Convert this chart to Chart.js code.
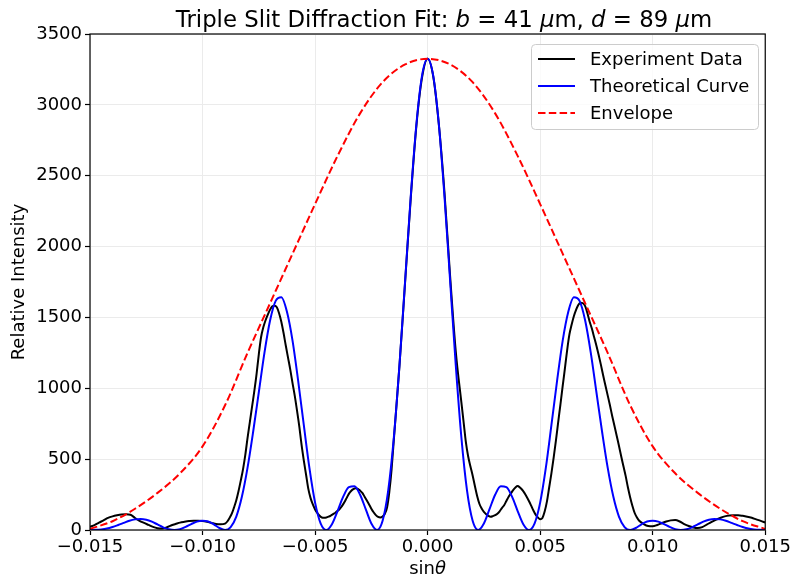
<!DOCTYPE html>
<html>
<head>
<meta charset="utf-8">
<title>Triple Slit Diffraction Fit</title>
<script src="https://cdn.jsdelivr.net/npm/chart.js@4.4.1/dist/chart.umd.min.js"></script>
<style>
  html, body { margin: 0; padding: 0; background: #fff; }
  #wrap { width: 793px; height: 578px; }
</style>
</head>
<body>
<div id="wrap"><canvas id="chart" width="793" height="578"></canvas></div>
<script>
// Experiment data
const expX = [
  -0.0150, -0.0148, -0.0146, -0.0144, -0.0142, -0.0140, -0.0138, -0.0136, -0.0134, -0.0132,
  -0.0130, -0.0128, -0.0126, -0.0124, -0.0122, -0.0120, -0.0118, -0.0116, -0.0114, -0.0112,
  -0.0110, -0.0108, -0.0106, -0.0104, -0.0102, -0.0100, -0.0098, -0.0096, -0.0094, -0.0092,
  -0.0090, -0.0089, -0.0088, -0.0087, -0.0086, -0.0085, -0.0084, -0.0083, -0.0082, -0.0081,
  -0.0080, -0.0079, -0.0078, -0.0077, -0.0076, -0.0075, -0.0074, -0.0073, -0.0072, -0.0071,
  -0.0070, -0.0069, -0.0068, -0.0067, -0.0066, -0.0065, -0.0064, -0.0063, -0.0062, -0.0061,
  -0.0060, -0.0059, -0.0058, -0.0057, -0.0056, -0.0055, -0.0054, -0.0053, -0.0052, -0.0051,
  -0.0050, -0.0049, -0.0048, -0.0047, -0.0046, -0.0045, -0.0044, -0.0043, -0.0042, -0.0041,
  -0.0040, -0.0039, -0.0038, -0.0037, -0.0036, -0.0035, -0.0034, -0.0033, -0.0032, -0.0031,
  -0.0030, -0.0029, -0.0028, -0.0027, -0.0026, -0.0025, -0.0024, -0.0023, -0.0022, -0.0021,
  -0.0020, -0.0019, -0.0018, -0.0017, -0.0016, -0.0015, -0.00125, -0.0010, -0.00075, -0.0005,
  -0.00025, 0, 0.00025, 0.0005, 0.00075, 0.0010, 0.00125, 0.0015, 0.0016, 0.0017,
  0.0018, 0.0019, 0.0020, 0.0021, 0.0022, 0.0023, 0.0024, 0.0025, 0.0026, 0.0027,
  0.0028, 0.0029, 0.0030, 0.0031, 0.0032, 0.0033, 0.0034, 0.0035, 0.0036, 0.0037,
  0.0038, 0.0039, 0.0040, 0.0041, 0.0042, 0.0043, 0.0044, 0.0045, 0.0046, 0.0047,
  0.0048, 0.0049, 0.0050, 0.0051, 0.0052, 0.0053, 0.0054, 0.0055, 0.0056, 0.0057,
  0.0058, 0.0059, 0.0060, 0.0061, 0.0062, 0.0063, 0.0064, 0.0065, 0.0066, 0.0067,
  0.0068, 0.0069, 0.0070, 0.0071, 0.0072, 0.0073, 0.0074, 0.0075, 0.0076, 0.0077,
  0.0078, 0.0079, 0.0080, 0.0081, 0.0082, 0.0083, 0.0084, 0.0085, 0.0086, 0.0087,
  0.0088, 0.0089, 0.0090, 0.0091, 0.0092, 0.0093, 0.0094, 0.0096, 0.0098, 0.0100,
  0.0102, 0.0104, 0.0106, 0.0108, 0.0110, 0.0112, 0.0114, 0.0116, 0.0118, 0.0120,
  0.0122, 0.0124, 0.0126, 0.0128, 0.0130, 0.0132, 0.0134, 0.0136, 0.0138, 0.0140,
  0.0142, 0.0144, 0.0146, 0.0148, 0.0150
];
const expY = [
  22, 35, 52, 68, 85, 96, 104, 110, 112, 108,
  85, 65, 50, 36, 22, 13, 10, 18, 32, 42,
  52, 58, 63, 66, 66, 64, 58, 50, 42, 40,
  45, 60, 85, 115, 160, 210, 275, 350, 430, 530,
  650, 760, 870, 980, 1100, 1240, 1360, 1430, 1480, 1520,
  1555, 1578, 1582, 1572, 1530, 1470, 1390, 1300, 1215, 1130,
  1035, 945, 840, 730, 600, 490, 390, 290, 225, 180,
  145, 120, 100, 88, 86, 88, 94, 102, 112, 122,
  135, 150, 170, 195, 225, 255, 275, 288, 294, 290,
  278, 262, 235, 208, 180, 150, 125, 105, 92, 88,
  95, 115, 160, 270, 430, 640, 1160, 1750, 2340, 2850,
  3190, 3325, 3200, 2860, 2380, 1790, 1260, 900, 760, 620,
  520, 450, 385, 310, 240, 185, 152, 128, 112, 100,
  94, 98, 105, 115, 132, 155, 175, 205, 235, 258,
  282, 300, 310, 300, 284, 262, 235, 205, 172, 138,
  108, 88, 76, 85, 130, 200, 300, 400, 510, 630,
  760, 885, 1015, 1140, 1270, 1380, 1450, 1510, 1555, 1590,
  1604, 1600, 1580, 1530, 1470, 1420, 1360, 1300, 1235, 1165,
  1090, 1020, 950, 880, 805, 735, 665, 595, 520, 450,
  380, 300, 230, 170, 120, 88, 65, 42, 28, 26,
  35, 48, 60, 68, 70, 60, 42, 28, 18, 14,
  20, 38, 56, 72, 85, 96, 102, 104, 104, 100,
  94, 86, 75, 64, 52
];

// Theoretical curve
const theoryX = [
  -0.015, -0.01475, -0.0145, -0.01425, -0.014, -0.01375, -0.0135, -0.01325, -0.013, -0.01275,
  -0.0125, -0.01225, -0.012, -0.01175, -0.0115, -0.01125, -0.011, -0.01075, -0.0105, -0.01025,
  -0.01, -0.00975, -0.0095, -0.00925, -0.009, -0.00875, -0.0085, -0.00825, -0.008, -0.00775,
  -0.0075, -0.00725, -0.007, -0.00675, -0.0065, -0.00625, -0.006, -0.00575, -0.0055, -0.00525,
  -0.005, -0.00475, -0.0045, -0.00425, -0.004, -0.00375, -0.0035, -0.00325, -0.003, -0.00275,
  -0.0025, -0.00225, -0.002, -0.00175, -0.0015, -0.00125, -0.001, -0.00075, -0.0005, -0.00025,
  0,
  0.00025, 0.0005, 0.00075, 0.001, 0.00125, 0.0015, 0.00175, 0.002, 0.00225, 0.0025,
  0.00275, 0.003, 0.00325, 0.0035, 0.00375, 0.004, 0.00425, 0.0045, 0.00475, 0.005,
  0.00525, 0.0055, 0.00575, 0.006, 0.00625, 0.0065, 0.00675, 0.007, 0.00725, 0.0075,
  0.00775, 0.008, 0.00825, 0.0085, 0.00875, 0.009, 0.00925, 0.0095, 0.00975, 0.01,
  0.01025, 0.0105, 0.01075, 0.011, 0.01125, 0.0115, 0.01175, 0.012, 0.01225, 0.0125,
  0.01275, 0.013, 0.01325, 0.0135, 0.01375, 0.014, 0.01425, 0.0145, 0.01475, 0.015
];
const theoryY = [
  0, 1, 4, 10, 21, 35, 50, 65, 75, 78,
  73, 59, 39, 19, 5, 0, 6, 22, 42, 59,
  65, 60, 40, 14, 0, 21, 95, 236, 440, 695,
  972, 1250, 1478, 1617, 1642, 1540, 1335, 1050, 740, 436,
  193, 45, 0, 41, 134, 235, 302, 308, 249, 147,
  46, 0, 65, 279, 653, 1165, 1757, 2352, 2861, 3204,
  3325,
  3204, 2861, 2352, 1757, 1165, 653, 279, 65, 0, 46,
  147, 249, 308, 302, 235, 134, 41, 0, 45, 193,
  436, 740, 1050, 1335, 1540, 1642, 1617, 1478, 1250, 972,
  695, 440, 236, 95, 21, 0, 14, 40, 60, 65,
  59, 42, 22, 6, 0, 5, 19, 39, 59, 73,
  78, 75, 65, 50, 35, 21, 10, 4, 1, 0
];

// Single slit envelope
const envX = [
  -0.015, -0.014, -0.013, -0.012, -0.011, -0.010, -0.009, -0.008, -0.007, -0.006, -0.005,
  -0.004, -0.003, -0.002, -0.001, 0, 0.001, 0.002, 0.003, 0.004, 0.005,
  0.006, 0.007, 0.008, 0.009, 0.010, 0.011, 0.012, 0.013, 0.014, 0.015
];
const envY = [
  8, 62, 150, 262, 400, 590, 880, 1250, 1600, 1950, 2300,
  2640, 2940, 3160, 3285, 3325, 3285, 3160, 2940, 2640, 2300,
  1950, 1600, 1250, 880, 590, 400, 262, 150, 62, 8
];

const X_TICKS = [-0.015, -0.010, -0.005, 0.000, 0.005, 0.010, 0.015];
const Y_TICKS = [0, 500, 1000, 1500, 2000, 2500, 3000, 3500];

const FONT = "'DejaVu Sans', Verdana, sans-serif";

function toPoints(xs, ys) {
    return xs.map((x, i) => ({ x: x, y: ys[i] }));
}

// title with italic math parts, drawn as text
const titleParts = [
    ['Triple Slit Diffraction Fit: ', false], ['b', true], [' = 41 ', false], ['\u03BC', true],
    ['m, ', false], ['d', true], [' = 89 ', false], ['\u03BC', true], ['m', false]
];
const xLabelParts = [['sin', false], ['\u03B8', true]];

function drawParts(ctx, parts, cx, y, size) {
    let total = 0;
    parts.forEach(p => {
        ctx.font = (p[1] ? 'italic ' : '') + size + 'px ' + FONT;
        total += ctx.measureText(p[0]).width;
    });
    let x = cx - total / 2;
    parts.forEach(p => {
        ctx.font = (p[1] ? 'italic ' : '') + size + 'px ' + FONT;
        ctx.fillText(p[0], x, y);
        x += ctx.measureText(p[0]).width;
    });
}

const framePlugin = {
    id: 'frame',
    afterDatasetsDraw(chart) {
        const a = chart.chartArea;
        const ctx = chart.ctx;
        ctx.save();
        ctx.strokeStyle = '#000';
        ctx.lineWidth = 1.2;
        ctx.strokeRect(a.left, a.top, a.right - a.left, a.bottom - a.top);
        ctx.restore();
    }
};

const textPlugin = {
    id: 'mathText',
    afterDraw(chart) {
        const ctx = chart.ctx;
        const a = chart.chartArea;
        ctx.save();
        ctx.fillStyle = '#000';
        ctx.textBaseline = 'alphabetic';
        drawParts(ctx, titleParts, 444, 27, 22.8);
        drawParts(ctx, xLabelParts, (a.left + a.right) / 2, 574, 18);
        ctx.restore();
    }
};

const legendPlugin = {
    id: 'boxLegend',
    afterDraw(chart) {
        const ctx = chart.ctx;
        const x = 531.5, y = 44.5, w = 227, h = 85;
        ctx.save();
        ctx.beginPath();
        ctx.roundRect(x, y, w, h, 4);
        ctx.fillStyle = 'rgba(255,255,255,0.8)';
        ctx.fill();
        ctx.strokeStyle = '#cccccc';
        ctx.lineWidth = 1;
        ctx.stroke();
        ctx.font = '18px ' + FONT;
        ctx.textBaseline = 'middle';
        const rows = [chart.data.datasets[2], chart.data.datasets[1], chart.data.datasets[0]];
        rows.forEach((ds, i) => {
            const ry = 59 + i * 27;
            ctx.beginPath();
            ctx.strokeStyle = ds.borderColor;
            ctx.lineWidth = ds.borderWidth;
            ctx.setLineDash(ds.borderDash || []);
            ctx.moveTo(538, ry);
            ctx.lineTo(575, ry);
            ctx.stroke();
            ctx.setLineDash([]);
            ctx.fillStyle = '#000';
            ctx.fillText(ds.label, 590, ry + 1);
        });
        ctx.restore();
    }
};

const ctx = document.getElementById('chart').getContext('2d');
new Chart(ctx, {
    type: 'line',
    data: {
        datasets: [
            {
                label: 'Envelope',
                data: toPoints(envX, envY),
                borderColor: '#ff0000',
                borderWidth: 2,
                borderDash: [7.5, 3.3],
                pointRadius: 0,
                cubicInterpolationMode: 'monotone',
                order: 1
            },
            {
                label: 'Theoretical Curve',
                data: toPoints(theoryX, theoryY),
                borderColor: '#0000ff',
                borderWidth: 2,
                pointRadius: 0,
                cubicInterpolationMode: 'monotone',
                order: 2
            },
            {
                label: 'Experiment Data',
                data: toPoints(expX, expY),
                borderColor: '#000000',
                borderWidth: 2,
                pointRadius: 0,
                cubicInterpolationMode: 'monotone',
                order: 3
            }
        ]
    },
    options: {
        responsive: false,
        animation: false,
        devicePixelRatio: 1,
        layout: { padding: { top: 34, right: 26, left: 0, bottom: 0 } },
        plugins: {
            legend: { display: false },
            title: { display: false },
            tooltip: { enabled: false }
        },
        scales: {
            x: {
                type: 'linear',
                min: -0.015,
                max: 0.015,
                afterFit: (scale) => { scale.height = 48; },
                afterBuildTicks: (scale) => { scale.ticks = X_TICKS.map(v => ({ value: v })); },
                border: { display: false },
                grid: { color: '#ebebeb', lineWidth: 1, tickColor: '#000', tickLength: 5, tickWidth: 1.2 },
                ticks: {
                    color: '#000',
                    font: { family: FONT, size: 18 },
                    padding: 2,
                    maxRotation: 0,
                    callback: (v) => Math.abs(v) < 1e-9 ? '0.000' : v.toFixed(3).replace('-', '\u2212')
                }
            },
            y: {
                type: 'linear',
                min: 0,
                max: 3500,
                afterFit: (scale) => { scale.width = 90; },
                afterBuildTicks: (scale) => { scale.ticks = Y_TICKS.map(v => ({ value: v })); },
                border: { display: false },
                grid: { color: '#ebebeb', lineWidth: 1, tickColor: '#000', tickLength: 5, tickWidth: 1.2 },
                ticks: {
                    color: '#000',
                    font: { family: FONT, size: 18 },
                    padding: 3,
                    callback: (v) => String(v)
                },
                title: {
                    display: true,
                    text: 'Relative Intensity',
                    color: '#000',
                    font: { family: FONT, size: 18 },
                    padding: { top: 9, bottom: 0 }
                }
            }
        }
    },
    plugins: [framePlugin, textPlugin, legendPlugin]
});
</script>
</body>
</html>
